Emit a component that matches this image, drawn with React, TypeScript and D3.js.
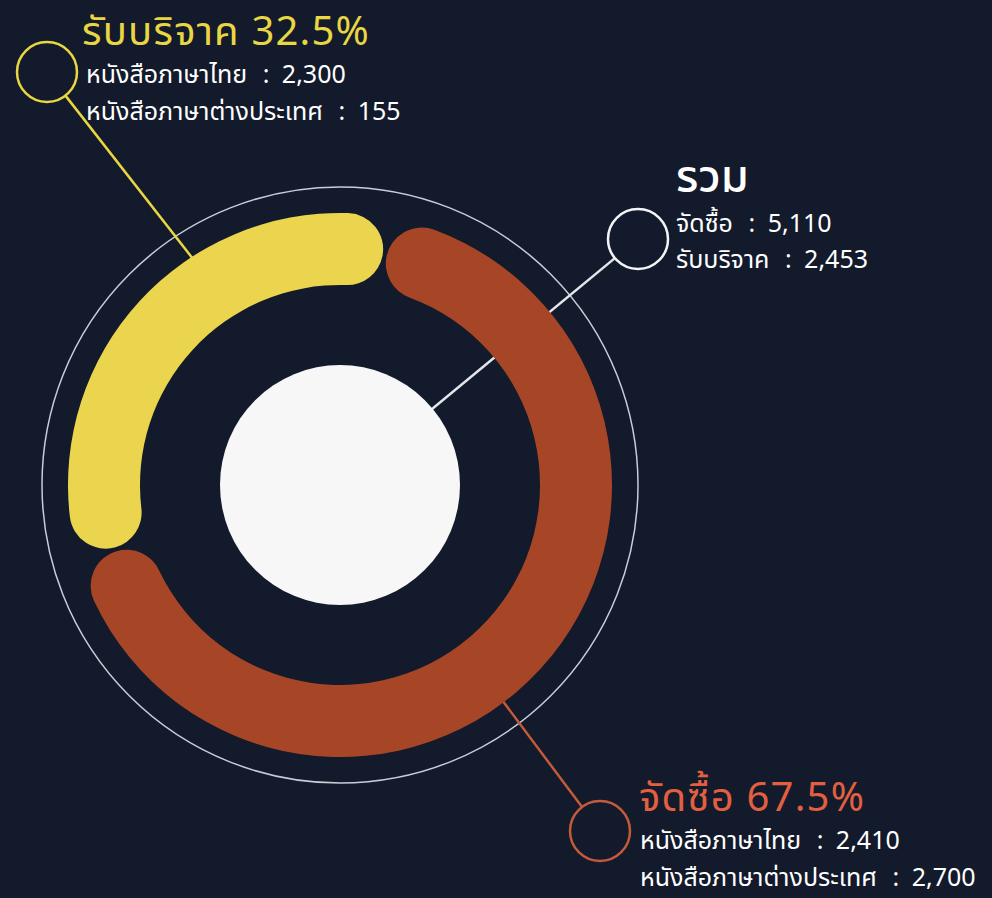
import * as d3 from 'd3';
import React from 'react';

// book acquisition split (from the infographic)
const categories = ['รับบริจาค', 'จัดซื้อ'];
const totals = [2453, 5110];
const percents = ['32.5%', '67.5%'];
const thaiBooks = [2300, 2410];
const foreignBooks = [155, 2700];
const lineLabels = ['หนังสือภาษาไทย', 'หนังสือภาษาต่างประเทศ'];

const arcColors = ['#ebd54e', '#a74627'];
const titleColors = ['#e8d642', '#e2603f'];
const markerColors = ['#e8d642', '#c45a3a'];

const WIDTH = 992;
const HEIGHT = 898;
const FONT = "'Noto Sans Thai', 'Noto Sans', sans-serif";

// "label  :  value" line with the wide colon spacing of the original
function InfoLine({ x, y, label, value }: { x: number; y: number; label: string; value: string }) {
  return (
    <text x={x} y={y} fill="#ffffff" fontSize={25}>
      <tspan>{label}</tspan>
      <tspan dx={9}>{' :'}</tspan>
      <tspan dx={6}>{' ' + value}</tspan>
    </text>
  );
}

export default function App() {
  const cx = 340;
  const cy = 485;
  const outerR = 272;
  const innerR = 200;

  const start = (-106 * Math.PI) / 180;
  const pie = d3
    .pie<number>()
    .sort(null)
    .value((d) => d)
    .startAngle(start)
    .endAngle(start + 2 * Math.PI)
    .padAngle(0.012);
  const arcs = pie(totals);

  const arc = d3
    .arc<d3.PieArcDatum<number>>()
    .innerRadius(innerR)
    .outerRadius(outerR)
    .cornerRadius((outerR - innerR) / 2);

  const fmt = d3.format(',');

  // label blocks: marker circle, leader anchor angle on the ring, text position
  const blocks = [
    { marker: [47, 72], anchor: -33, titleX: 82, lineX: 86, y: 45 },
    { marker: [600, 831], anchor: 143, titleX: 639, lineX: 640, y: 811 },
  ];

  const polar = (deg: number, r: number) => {
    const a = (deg * Math.PI) / 180;
    return [cx + r * Math.sin(a), cy - r * Math.cos(a)];
  };

  const leader = (m: number[], target: number[], r: number) => {
    const dx = target[0] - m[0];
    const dy = target[1] - m[1];
    const len = Math.sqrt(dx * dx + dy * dy);
    return [m[0] + (dx / len) * r, m[1] + (dy / len) * r, target[0], target[1]];
  };

  const totalMarker = [638, 239];
  const totalLine = leader(totalMarker, [cx, cy], 30);

  return (
    <svg
      width={WIDTH}
      height={HEIGHT}
      style={{ position: 'absolute', left: 0, top: 0, background: '#131a2b' }}
      fontFamily={FONT}
    >
      <rect width={WIDTH} height={HEIGHT} fill="#131a2b" />

      {/* thin outer ring */}
      <circle cx={cx} cy={cy} r={298} fill="none" stroke="#c9cdd8" strokeWidth={1.5} />

      {/* leader lines */}
      <line
        x1={totalLine[0]}
        y1={totalLine[1]}
        x2={totalLine[2]}
        y2={totalLine[3]}
        stroke="#e4e6ec"
        strokeWidth={2.5}
      />
      {blocks.map((b, i) => {
        const l = leader(b.marker, polar(b.anchor, outerR - 4), 30);
        return (
          <line
            key={'l' + i}
            x1={l[0]}
            y1={l[1]}
            x2={l[2]}
            y2={l[3]}
            stroke={markerColors[i]}
            strokeWidth={2.5}
          />
        );
      })}

      {/* donut */}
      <g transform={`translate(${cx},${cy})`}>
        {arcs.map((a, i) => (
          <path key={categories[i]} d={arc(a) || ''} fill={arcColors[i]} />
        ))}
        <circle r={120} fill="#f7f7f8" />
      </g>

      {/* total block */}
      <circle cx={totalMarker[0]} cy={totalMarker[1]} r={30} fill="none" stroke="#f4f4f6" strokeWidth={2.5} />
      <text x={676} y={192} fill="#ffffff" fontSize={45} fontWeight={500}>
        รวม
      </text>
      <InfoLine x={676} y={232} label={categories[1]} value={fmt(totals[1])} />
      <InfoLine x={676} y={268} label={categories[0]} value={fmt(totals[0])} />

      {/* category blocks */}
      {blocks.map((b, i) => (
        <g key={'b' + i}>
          <circle
            cx={b.marker[0]}
            cy={b.marker[1]}
            r={30}
            fill="none"
            stroke={markerColors[i]}
            strokeWidth={2.5}
          />
          <text x={b.titleX} y={b.y} fill={titleColors[i]} fontSize={40} letterSpacing={1.2}>
            {`${categories[i]} ${percents[i]}`}
          </text>
          <InfoLine x={b.lineX} y={b.y + 38} label={lineLabels[0]} value={fmt(thaiBooks[i])} />
          <InfoLine x={b.lineX} y={b.y + 75} label={lineLabels[1]} value={fmt(foreignBooks[i])} />
        </g>
      ))}
    </svg>
  );
}
